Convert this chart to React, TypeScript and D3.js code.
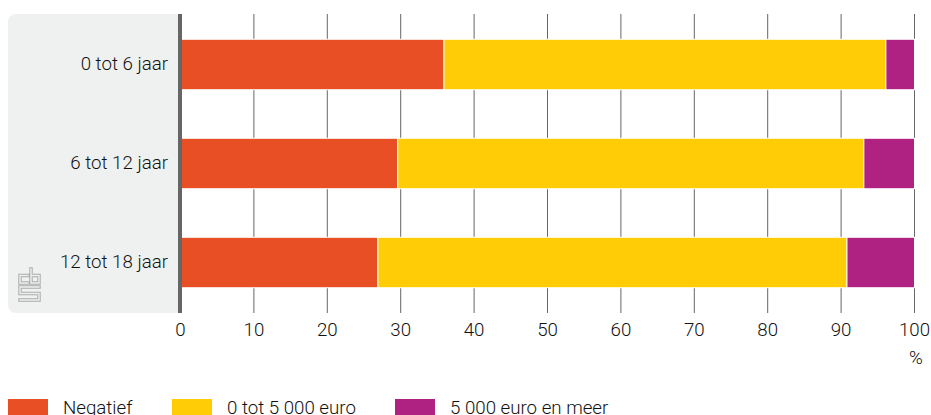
import React from "react";
import * as d3 from "d3";

const categories = ["0 tot 6 jaar", "6 tot 12 jaar", "12 tot 18 jaar"];
const seriesNames = ["Negatief", "0 tot 5 000 euro", "5 000 euro en meer"];
const negatief = [35.9, 29.6, 26.9];
const nulTot5000 = [60.2, 63.5, 63.9];
const vijfduizendPlus = [3.9, 6.9, 9.2];
const colors = ["#e94f24", "#ffcc05", "#af2282"];
const xTicks = [0, 10, 20, 30, 40, 50, 60, 70, 80, 90, 100];

const FONT = "Roboto, sans-serif";
const W = 931, H = 415;
const TOP = 14, BOTTOM = 313;
const LOGO = "M28 275.5 H20 V283 H28 M31 269 V283 H39 V275.5 H31 M39 287 H20 V293.5 H39 V300 H20";

export default function App() {
  const x = d3.scaleLinear().domain([0, 100]).range([180.5, 914.5]);
  const y = d3.scaleBand<string>().domain(categories).range([TOP, BOTTOM]).paddingInner(0.49).paddingOuter(0.255);
  const rows = categories.map((c, i) => ({ cat: c, a: negatief[i], b: nulTot5000[i], c: vijfduizendPlus[i] }));
  const stacked = d3.stack<any>().keys(["a", "b", "c"])(rows);
  const panel = `M16 ${BOTTOM} H178 V${TOP} H16 a8 8 0 0 0 -8 8 V${BOTTOM - 8} a8 8 0 0 0 8 8 Z`;
  const legendX = [8, 172, 395];
  const textProps = { fontSize: 18.7, fontWeight: 300, fill: "#111" };
  return (
    <svg width={W} height={H} viewBox={`0 0 ${W} ${H}`} style={{ position: "absolute", left: 0, top: 0, fontFamily: FONT }}>
      <path d={panel} fill="#eff1f0" />
      {xTicks.slice(1).map((t) => (
        <line key={t} x1={x(t)} x2={x(t)} y1={TOP} y2={BOTTOM} stroke="#666" strokeWidth={1} />
      ))}
      {stacked.map((s, si) =>
        s.map((d, i) => (
          <rect key={`${si}-${i}`} x={x(d[0])} y={y(categories[i])!} width={x(d[1]) - x(d[0])} height={y.bandwidth()}
            fill={colors[si]} stroke="#fff" strokeWidth={1} />
        ))
      )}
      <line x1={180} x2={180} y1={TOP} y2={BOTTOM} stroke="#666" strokeWidth={4} />
      {categories.map((c) => (
        <text key={c} x={168} y={y(c)! + y.bandwidth() / 2 + 5.5} textAnchor="end" {...textProps}>{c}</text>
      ))}
      {xTicks.map((t) => (
        <text key={t} x={x(t)} y={336} textAnchor="middle" {...textProps}>{t}</text>
      ))}
      <text x={916} y={364} textAnchor="middle" {...textProps}>%</text>
      <g fill="none" strokeLinecap="square">
        <path d={LOGO} stroke="#aaa" strokeWidth={3.4} />
        <path d={LOGO} stroke="#eff1f0" strokeWidth={1.4} />
      </g>
      {seriesNames.map((n, i) => (
        <g key={n}>
          <rect x={legendX[i]} y={399} width={40} height={16} fill={colors[i]} />
          <text x={legendX[i] + 55} y={414} {...textProps}>{n}</text>
        </g>
      ))}
    </svg>
  );
}
